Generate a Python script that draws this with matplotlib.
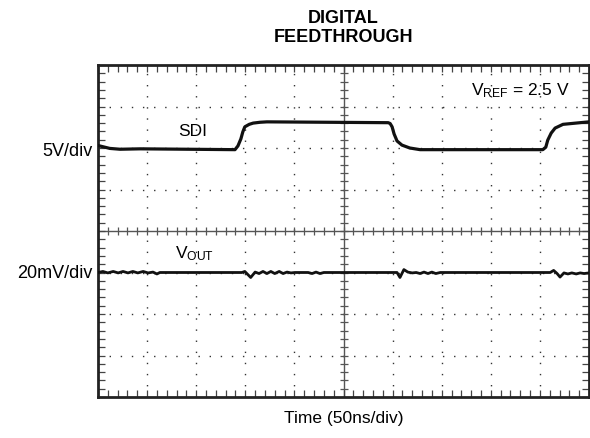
import matplotlib
matplotlib.use("Agg")
import matplotlib.pyplot as plt
from matplotlib.ticker import MultipleLocator

plt.rcParams['font.family'] = ['Liberation Sans', 'DejaVu Sans']
plt.rcParams['mathtext.default'] = 'regular'

# scope traces, time and level in screen divisions
sdi_t = [0.00, 0.24, 0.45, 0.86, 2.79, 2.85, 2.91, 2.95, 2.99, 3.08, 3.16, 3.30, 3.44,
         5.91, 5.95, 5.99, 6.03, 6.09, 6.19, 6.35, 6.56,
         9.06, 9.12, 9.16, 9.23, 9.31, 9.47, 9.82, 10.0]
sdi_v = [2.06, 1.99, 1.97, 1.98, 1.96, 2.05, 2.22, 2.39, 2.51, 2.57, 2.60, 2.62, 2.63,
         2.61, 2.59, 2.51, 2.34, 2.17, 2.07, 2.00, 1.96,
         1.96, 2.02, 2.19, 2.36, 2.48, 2.57, 2.61, 2.63]

vout_t = [0.00, 0.10, 0.20, 0.31, 0.41, 0.51, 0.61, 0.71, 0.81, 0.92, 1.02, 1.12, 1.20, 1.26,
          2.93, 2.99, 3.11, 3.20, 3.28, 3.36, 3.44, 3.52, 3.60, 3.69, 3.77, 3.85, 3.93, 4.01,
          4.28, 4.36, 4.44, 4.52, 4.60,
          6.09, 6.15, 6.23, 6.31, 6.40, 6.48, 6.56, 6.64, 6.72, 6.80, 6.88, 6.97, 7.09,
          9.21, 9.28, 9.35, 9.41, 9.49, 9.57, 9.65, 9.74, 9.82, 9.90, 10.0]
vout_v = [-1.00, -0.975, -1.01, -0.975, -1.01, -0.975, -1.01, -0.975, -1.01, -0.975, -1.01, -0.99, -1.035, -1.00,
          -1.00, -0.975, -1.12, -0.99, -1.025, -0.975, -1.025, -0.975, -1.025, -0.975, -1.025, -0.99, -1.01, -1.00,
          -1.00, -1.025, -0.99, -1.025, -1.00,
          -1.00, -1.12, -0.93, -0.99, -1.01, -1.00, -1.025, -0.99, -1.025, -0.99, -1.025, -1.00, -1.00,
          -1.00, -0.95, -1.025, -1.11, -1.01, -1.035, -1.01, -1.035, -1.01, -1.025, -1.01]

fig = plt.figure(figsize=(5.9, 4.39), dpi=100)
ax = fig.add_axes([98 / 590, 1 - 398 / 439, 491 / 590, 332 / 439])
ax.set_xlim(0, 10)
ax.set_ylim(-4, 4)

# graticule
for i in range(1, 10):
    if i != 5:
        ax.axvline(i, color='#333333', lw=1.0, ls=(0, (1, 7)), zorder=1)
for j in range(-3, 4):
    if j != 0:
        ax.axhline(j, color='#333333', lw=1.0, ls=(0, (1, 7)), zorder=1)
ax.axvline(5, color='#555555', lw=1.0, zorder=1)
ax.axhline(0, color='#555555', lw=1.0, zorder=1)

# center line ticks
cx = [k * 0.2 for k in range(1, 50)]
cy = [k * 0.2 - 4 for k in range(1, 40)]
ax.plot(cx, [0] * len(cx), ls='none', marker='|', ms=6, mew=0.9, color='#555555', zorder=1)
ax.plot([5] * len(cy), cy, ls='none', marker='_', ms=6, mew=0.9, color='#555555', zorder=1)

ax.xaxis.set_major_locator(MultipleLocator(0.2))
ax.yaxis.set_major_locator(MultipleLocator(0.2))
ax.tick_params(which='both', direction='in', length=5, width=0.9, color='#444444',
               top=True, right=True, labelbottom=False, labelleft=False)
for s in ax.spines.values():
    s.set_linewidth(2.0)
    s.set_color('#222222')

ax.plot(sdi_t, sdi_v, color='#111111', lw=2.3, solid_capstyle='round', zorder=3)
ax.plot(vout_t, vout_v, color='#111111', lw=2.0, solid_joinstyle='round', zorder=3)

fs = 12.5
ax.text(1.63, 2.31, 'SDI', fontsize=fs, ha='left', va='baseline')
ax.text(1.57, -0.63, r'V$_{OUT}$', fontsize=fs, ha='left', va='baseline')
ax.text(9.61, 3.30, r'V$_{REF}$ = 2.5 V', fontsize=fs, ha='right', va='baseline')

ax.text(-0.12, 1.93, '5V/div', fontsize=13, ha='right', va='center')
ax.text(-0.12, -1.01, '20mV/div', fontsize=13, ha='right', va='center')
ax.text(5, -4.5, 'Time (50ns/div)', fontsize=fs, ha='center', va='center')

fig.text(343 / 590, 1 - 28 / 439, 'DIGITAL\nFEEDTHROUGH', fontsize=13, fontweight='bold',
         ha='center', va='center', linespacing=1.1)

fig.savefig('out.png', dpi=100)
